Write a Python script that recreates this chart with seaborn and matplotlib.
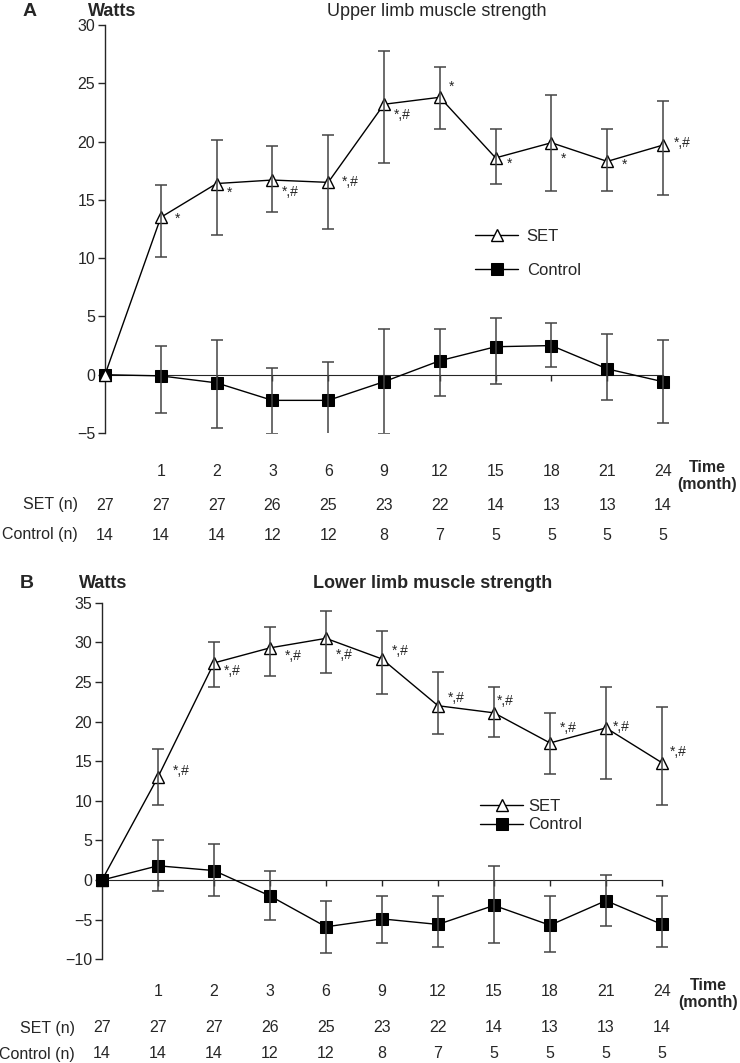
import numpy as np
import pandas as pd
import seaborn as sns
import matplotlib
matplotlib.use('Agg')
import matplotlib.pyplot as plt
from matplotlib import transforms

# time points (categorical, evenly spaced) and group sizes
months = ['0', '1', '2', '3', '6', '9', '12', '15', '18', '21', '24']
set_n = [27, 27, 27, 26, 25, 23, 22, 14, 13, 13, 14]
ctrl_n_upper = [14, 14, 14, 12, 12, 8, 7, 5, 5, 5, 5]
ctrl_n_lower = [14, 14, 14, 12, 12, 8, 7, 5, 5, 5, 5]

# A: upper limb (mean, upper and lower end of error bar)
upper_set = [0, 13.5, 16.4, 16.7, 16.5, 23.2, 23.8, 18.6, 19.9, 18.3, 19.7]
upper_set_hi = [0, 16.3, 20.1, 19.6, 20.6, 27.8, 26.4, 21.1, 24.0, 21.1, 23.5]
upper_set_lo = [0, 10.1, 12.0, 14.0, 12.5, 18.2, 21.1, 16.4, 15.8, 15.8, 15.4]
upper_ctrl = [0, -0.1, -0.7, -2.2, -2.2, -0.6, 1.2, 2.4, 2.5, 0.5, -0.6]
upper_ctrl_hi = [0, 2.5, 3.0, 0.6, 1.1, 3.9, 3.9, 4.9, 4.4, 3.5, 3.0]
upper_ctrl_lo = [0, -3.3, -4.6, -5.1, -5.7, -5.1, -1.8, -0.8, 0.7, -2.2, -4.1]
upper_marks = ['', '*', '*', '*,#', '*,#', '*,#', '*', '*', '*', '*', '*,#']

# B: lower limb
lower_set = [0, 13.0, 27.4, 29.3, 30.5, 27.9, 22.0, 21.1, 17.3, 19.2, 14.8]
lower_set_hi = [0, 16.5, 30.0, 31.9, 33.9, 31.4, 26.2, 24.4, 21.1, 24.4, 21.8]
lower_set_lo = [0, 9.5, 24.3, 25.7, 26.1, 23.5, 18.4, 18.0, 13.4, 12.8, 9.5]
lower_ctrl = [0, 1.8, 1.2, -2.0, -5.9, -4.9, -5.6, -3.2, -5.7, -2.6, -5.6]
lower_ctrl_hi = [0, 5.0, 4.5, 1.1, -2.7, -2.0, -2.0, 1.8, -2.0, 0.6, -2.0]
lower_ctrl_lo = [0, -1.4, -2.0, -5.1, -9.2, -7.9, -8.4, -7.9, -9.1, -5.8, -8.5]
lower_marks = [''] + ['*,#'] * 10

# where the significance marks sit relative to each point (pixels, up positive)
upper_off = [(0, 0), (17, -1), (13, -9), (18, -12), (22, 0), (18, -11),
             (12, 10), (14, -6), (12, -16), (17, -3), (19, 2)]
lower_off = [(0, 0), (23, 6), (18, -8), (23, -8), (18, -17), (18, 8),
             (18, 8), (11, 12), (18, 15), (15, 1), (16, 11)]

sns.set_style('ticks')
plt.rcParams['font.family'] = ['Liberation Sans', 'DejaVu Sans']

W, H = 740, 1063
fig = plt.figure(figsize=(W / 100, H / 100), dpi=100)


def fx(px):
    return px / W


def fy(py):
    return 1 - py / H


def draw_panel(ax, sv, shi, slo, cv, chi, clo, marks, offs, ylim, yticks, set_on_top):
    idx = np.arange(len(months))
    df = pd.DataFrame({'t': idx, 'set': sv, 'ctrl': cv})

    for vals, hi, lo in [(cv, chi, clo), (sv, shi, slo)]:
        v = np.array(vals[1:])
        err = [v - np.array(lo[1:]), np.array(hi[1:]) - v]
        ax.errorbar(idx[1:], v, yerr=err, fmt='none', ecolor='#444444',
                    elinewidth=1.1, capsize=4, capthick=1.1, zorder=4)

    z_set, z_ctrl = (3.2, 3) if set_on_top else (3, 3.2)
    sns.lineplot(data=df, x='t', y='ctrl', ax=ax, color='black', lw=1,
                 marker='s', markersize=8, markerfacecolor='black',
                 markeredgecolor='black', label='Control', clip_on=False,
                 zorder=z_ctrl)
    sns.lineplot(data=df, x='t', y='set', ax=ax, color='black', lw=1,
                 marker='^', markersize=8, markerfacecolor='white',
                 markeredgecolor='black', markeredgewidth=1, label='SET',
                 clip_on=False, zorder=z_set)

    for i, (m, o) in enumerate(zip(marks, offs)):
        if m:
            ax.annotate(m, (idx[i], sv[i]), xytext=o, textcoords='offset pixels',
                        ha='center', va='center', fontsize=10)

    ax.set_xlim(0, 10.3)
    ax.set_ylim(*ylim)
    ax.set_yticks(yticks)
    ax.set_xticks(idx)
    ax.set_xticklabels([])
    ax.set_xlabel('')
    ax.set_ylabel('')
    sns.despine(ax=ax)
    ax.spines['bottom'].set_position(('data', 0))
    ax.spines['bottom'].set_bounds(0, 10)
    ax.spines['bottom'].set_zorder(2)
    ax.spines['left'].set_linewidth(1)
    ax.tick_params(axis='y', direction='out', length=5, width=1, labelsize=11.5, pad=2)
    ax.tick_params(axis='x', direction='out', length=4, width=1)
    return idx


# ---- panel A ----
axA = fig.add_axes([fx(105), fy(433), 10.3 * 55.8 / W, (433 - 25) / H])
idx = draw_panel(axA, upper_set, upper_set_hi, upper_set_lo,
                 upper_ctrl, upper_ctrl_hi, upper_ctrl_lo,
                 upper_marks, upper_off, (-5, 30), range(-5, 31, 5), True)
h, l = axA.get_legend_handles_labels()
axA.legend(h[::-1], l[::-1], loc='upper left', bbox_to_anchor=(fx(475), fy(229)),
           bbox_transform=fig.transFigure, frameon=False, borderpad=0,
           borderaxespad=0, handlelength=2.6, handletextpad=0.5,
           labelspacing=1.15, fontsize=12)

fig.text(fx(30), fy(11), 'A', fontsize=14, fontweight='bold', ha='center', va='center')
fig.text(fx(88), fy(11), 'Watts', fontsize=13, fontweight='bold', ha='left', va='center')
fig.text(fx(437), fy(11), 'Upper limb muscle strength', fontsize=13, ha='center', va='center')

trA = transforms.blended_transform_factory(axA.transData, fig.transFigure)
for i in idx[1:]:
    axA.text(i, fy(472), months[i], transform=trA, ha='center', va='center', fontsize=11.5)
for i in idx:
    axA.text(i, fy(505), str(set_n[i]), transform=trA, ha='center', va='center', fontsize=11.5)
    axA.text(i, fy(535), str(ctrl_n_upper[i]), transform=trA, ha='center', va='center', fontsize=11.5)
fig.text(fx(78), fy(505), 'SET (n)', ha='right', va='center', fontsize=11.5)
fig.text(fx(78), fy(535), 'Control (n)', ha='right', va='center', fontsize=11.5)
fig.text(fx(707), fy(476), 'Time\n(month)', ha='center', va='center', fontsize=11.5,
         fontweight='bold', linespacing=1.1)

# ---- panel B ----
axB = fig.add_axes([fx(102), fy(959.3), 10.3 * 56 / W, (959.3 - 602.7) / H])
idx = draw_panel(axB, lower_set, lower_set_hi, lower_set_lo,
                 lower_ctrl, lower_ctrl_hi, lower_ctrl_lo,
                 lower_marks, lower_off, (-10, 35), range(-10, 36, 5), False)
h, l = axB.get_legend_handles_labels()
axB.legend(h[::-1], l[::-1], loc='upper left', bbox_to_anchor=(fx(480), fy(799)),
           bbox_transform=fig.transFigure, frameon=False, borderpad=0,
           borderaxespad=0, handlelength=2.6, handletextpad=0.3,
           labelspacing=0.2, fontsize=12)

fig.text(fx(27), fy(583), 'B', fontsize=14, fontweight='bold', ha='center', va='center')
fig.text(fx(79), fy(583), 'Watts', fontsize=13, fontweight='bold', ha='left', va='center')
fig.text(fx(433), fy(583), 'Lower limb muscle strength', fontsize=13,
         fontweight='bold', ha='center', va='center')

trB = transforms.blended_transform_factory(axB.transData, fig.transFigure)
for i in idx[1:]:
    axB.text(i, fy(992), months[i], transform=trB, ha='center', va='center', fontsize=11.5)
for i in idx:
    axB.text(i, fy(1028), str(set_n[i]), transform=trB, ha='center', va='center', fontsize=11.5)
    axB.text(i, fy(1054), str(ctrl_n_lower[i]), transform=trB, ha='center', va='center', fontsize=11.5)
fig.text(fx(75), fy(1028), 'SET (n)', ha='right', va='center', fontsize=11.5)
fig.text(fx(75), fy(1054), 'Control (n)', ha='right', va='center', fontsize=11.5)
fig.text(fx(708), fy(994), 'Time\n(month)', ha='center', va='center', fontsize=11.5,
         fontweight='bold', linespacing=1.1)

fig.savefig('out.png', dpi=100)
